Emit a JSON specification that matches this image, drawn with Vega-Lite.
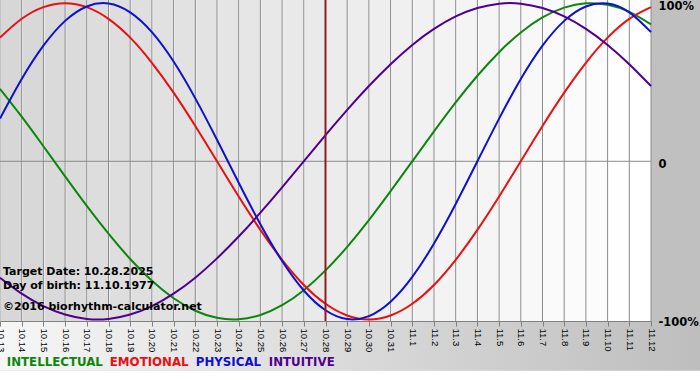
{
  "$schema": "https://vega.github.io/schema/vega-lite/v6.json",
  "width": 651,
  "height": 321,
  "autosize": {"type": "none"},
  "padding": {"left": 0, "top": 0, "right": 49, "bottom": 59},
  "background": "#c0c0c0",
  "config": {"view": {"stroke": null, "fill": "#ffffff"}, "font": "DejaVu Sans"},
  "data": {
    "values": [
      {"date": "2025-10-13", "INTELLECTUAL": 0.458, "EMOTIONAL": 0.782, "PHYSICAL": 0.270, "INTUITIVE": -0.736},
      {"date": "2025-10-14", "INTELLECTUAL": 0.282, "EMOTIONAL": 0.901, "PHYSICAL": 0.520, "INTUITIVE": -0.837},
      {"date": "2025-10-15", "INTELLECTUAL": 0.095, "EMOTIONAL": 0.975, "PHYSICAL": 0.731, "INTUITIVE": -0.916},
      {"date": "2025-10-16", "INTELLECTUAL": -0.095, "EMOTIONAL": 1.0, "PHYSICAL": 0.888, "INTUITIVE": -0.969},
      {"date": "2025-10-17", "INTELLECTUAL": -0.282, "EMOTIONAL": 0.975, "PHYSICAL": 0.979, "INTUITIVE": -0.997},
      {"date": "2025-10-18", "INTELLECTUAL": -0.458, "EMOTIONAL": 0.901, "PHYSICAL": 0.998, "INTUITIVE": -0.997},
      {"date": "2025-10-19", "INTELLECTUAL": -0.618, "EMOTIONAL": 0.782, "PHYSICAL": 0.942, "INTUITIVE": -0.969},
      {"date": "2025-10-20", "INTELLECTUAL": -0.756, "EMOTIONAL": 0.623, "PHYSICAL": 0.817, "INTUITIVE": -0.916},
      {"date": "2025-10-21", "INTELLECTUAL": -0.866, "EMOTIONAL": 0.434, "PHYSICAL": 0.631, "INTUITIVE": -0.837},
      {"date": "2025-10-22", "INTELLECTUAL": -0.945, "EMOTIONAL": 0.223, "PHYSICAL": 0.398, "INTUITIVE": -0.736},
      {"date": "2025-10-23", "INTELLECTUAL": -0.990, "EMOTIONAL": 0.0, "PHYSICAL": 0.136, "INTUITIVE": -0.614},
      {"date": "2025-10-24", "INTELLECTUAL": -0.999, "EMOTIONAL": -0.223, "PHYSICAL": -0.136, "INTUITIVE": -0.476},
      {"date": "2025-10-25", "INTELLECTUAL": -0.972, "EMOTIONAL": -0.434, "PHYSICAL": -0.398, "INTUITIVE": -0.325},
      {"date": "2025-10-26", "INTELLECTUAL": -0.910, "EMOTIONAL": -0.623, "PHYSICAL": -0.631, "INTUITIVE": -0.165},
      {"date": "2025-10-27", "INTELLECTUAL": -0.815, "EMOTIONAL": -0.782, "PHYSICAL": -0.817, "INTUITIVE": 0.0},
      {"date": "2025-10-28", "INTELLECTUAL": -0.690, "EMOTIONAL": -0.901, "PHYSICAL": -0.942, "INTUITIVE": 0.165},
      {"date": "2025-10-29", "INTELLECTUAL": -0.541, "EMOTIONAL": -0.975, "PHYSICAL": -0.998, "INTUITIVE": 0.325},
      {"date": "2025-10-30", "INTELLECTUAL": -0.372, "EMOTIONAL": -1.0, "PHYSICAL": -0.979, "INTUITIVE": 0.476},
      {"date": "2025-10-31", "INTELLECTUAL": -0.189, "EMOTIONAL": -0.975, "PHYSICAL": -0.888, "INTUITIVE": 0.614},
      {"date": "2025-11-01", "INTELLECTUAL": 0.0, "EMOTIONAL": -0.901, "PHYSICAL": -0.731, "INTUITIVE": 0.736},
      {"date": "2025-11-02", "INTELLECTUAL": 0.189, "EMOTIONAL": -0.782, "PHYSICAL": -0.520, "INTUITIVE": 0.837},
      {"date": "2025-11-03", "INTELLECTUAL": 0.372, "EMOTIONAL": -0.623, "PHYSICAL": -0.270, "INTUITIVE": 0.916},
      {"date": "2025-11-04", "INTELLECTUAL": 0.541, "EMOTIONAL": -0.434, "PHYSICAL": 0.0, "INTUITIVE": 0.969},
      {"date": "2025-11-05", "INTELLECTUAL": 0.690, "EMOTIONAL": -0.223, "PHYSICAL": 0.270, "INTUITIVE": 0.997},
      {"date": "2025-11-06", "INTELLECTUAL": 0.815, "EMOTIONAL": 0.0, "PHYSICAL": 0.520, "INTUITIVE": 0.997},
      {"date": "2025-11-07", "INTELLECTUAL": 0.910, "EMOTIONAL": 0.223, "PHYSICAL": 0.731, "INTUITIVE": 0.969},
      {"date": "2025-11-08", "INTELLECTUAL": 0.972, "EMOTIONAL": 0.434, "PHYSICAL": 0.888, "INTUITIVE": 0.916},
      {"date": "2025-11-09", "INTELLECTUAL": 0.999, "EMOTIONAL": 0.623, "PHYSICAL": 0.979, "INTUITIVE": 0.837},
      {"date": "2025-11-10", "INTELLECTUAL": 0.990, "EMOTIONAL": 0.782, "PHYSICAL": 0.998, "INTUITIVE": 0.736},
      {"date": "2025-11-11", "INTELLECTUAL": 0.945, "EMOTIONAL": 0.901, "PHYSICAL": 0.942, "INTUITIVE": 0.614},
      {"date": "2025-11-12", "INTELLECTUAL": 0.866, "EMOTIONAL": 0.975, "PHYSICAL": 0.817, "INTUITIVE": 0.476}
    ]
  },
  "layer": [
    {
      "mark": {"type": "bar", "clip": true},
      "encoding": {
        "x": {
          "field": "date", "type": "temporal", "timeUnit": "utcyearmonthdate", "title": null,
          "scale": {"type": "utc", "domain": [{"year": 2025, "month": 10, "date": 13, "utc": true}, {"year": 2025, "month": 11, "date": 12, "utc": true}]},
          "axis": {
            "format": "%-m.%-d", "tickCount": {"interval": "day", "step": 1},
            "labelAngle": 90, "labelFont": "Liberation Sans", "labelFontSize": 9.5, "labelColor": "#000000",
            "labelFlush": false, "labelOverlap": false, "labelBound": false, "labelPadding": 2,
            "tickColor": "#808080", "tickSize": 5, "domainColor": "#808080", "grid": false, "title": null, "zindex": 1
          }
        },
        "y": {"datum": 1.02, "type": "quantitative", "title": null, "scale": {"domain": [-1.01, 1.02]}},
        "y2": {"datum": -1.01},
        "fill": {
          "field": "date", "type": "ordinal", "legend": null,
          "scale": {"range": ["#d7d7d7", "#d8d8d8", "#dadada", "#dbdbdb", "#dddddd", "#dedede", "#dfdfdf", "#e1e1e1", "#e2e2e2", "#e3e3e3", "#e5e5e5", "#e6e6e6", "#e8e8e8", "#e9e9e9", "#eaeaea", "#ececec", "#ededed", "#eeeeee", "#f0f0f0", "#f1f1f1", "#f3f3f3", "#f4f4f4", "#f5f5f5", "#f7f7f7", "#f8f8f8", "#fafafa", "#fbfbfb", "#fcfcfc", "#fefefe", "#ffffff", "#ffffff"]}
        }
      }
    },
    {
      "mark": {"type": "rule", "color": "#8a8a8a", "strokeWidth": 1},
      "encoding": {"x": {"field": "date", "type": "temporal", "title": null, "scale": {"type": "utc", "domain": [{"year": 2025, "month": 10, "date": 13, "utc": true}, {"year": 2025, "month": 11, "date": 12, "utc": true}]}}}
    },
    {
      "data": {"values": [{}]},
      "mark": {"type": "rule", "color": "#8a8a8a", "strokeWidth": 1},
      "encoding": {"y": {"datum": 0, "type": "quantitative", "title": null, "scale": {"domain": [-1.01, 1.02]}}}
    },
    {
      "data": {"values": [{}]},
      "mark": {"type": "rect", "clip": false, "fill": {"gradient": "linear", "x1": 0, "y1": 0, "x2": 1, "y2": 0, "stops": [{"offset": 0, "color": "#f6f6f6"}, {"offset": 0.88, "color": "#c4c4c4"}, {"offset": 1, "color": "#bdbdbd"}]}},
      "encoding": {
        "x": {"datum": {"year": 2025, "month": 10, "date": 13, "utc": true}, "type": "temporal", "title": null, "scale": {"type": "utc", "domain": [{"year": 2025, "month": 10, "date": 13, "utc": true}, {"year": 2025, "month": 11, "date": 12, "utc": true}]}},
        "x2": {"datum": {"year": 2025, "month": 11, "date": 14, "hours": 12, "utc": true}},
        "y": {"datum": -1.01, "type": "quantitative", "title": null, "scale": {"domain": [-1.01, 1.02]}},
        "y2": {"datum": -1.325}
      }
    },
    {
      "data": {"values": [{}]},
      "mark": {"type": "rect", "clip": false, "fill": "#ffffff"},
      "encoding": {
        "x": {"datum": {"year": 2025, "month": 10, "date": 13, "utc": true}, "type": "temporal", "title": null, "scale": {"type": "utc", "domain": [{"year": 2025, "month": 10, "date": 13, "utc": true}, {"year": 2025, "month": 11, "date": 12, "utc": true}]}},
        "x2": {"datum": {"year": 2025, "month": 11, "date": 14, "hours": 12, "utc": true}},
        "y": {"datum": -1.325, "type": "quantitative", "title": null, "scale": {"domain": [-1.01, 1.02]}},
        "y2": {"datum": -1.5}
      }
    },
    {
      "transform": [{"fold": ["INTELLECTUAL", "EMOTIONAL", "PHYSICAL", "INTUITIVE"], "as": ["series", "value"]}],
      "mark": {"type": "line", "strokeWidth": 2, "interpolate": "natural"},
      "encoding": {
        "x": {"field": "date", "type": "temporal", "title": null, "scale": {"type": "utc", "domain": [{"year": 2025, "month": 10, "date": 13, "utc": true}, {"year": 2025, "month": 11, "date": 12, "utc": true}]}},
        "y": {
          "field": "value", "type": "quantitative", "title": null,
          "scale": {"domain": [-1.01, 1.02]},
          "axis": {
            "orient": "right", "values": [-1, 0, 1],
            "labelExpr": "datum.value == 1 ? '100%' : datum.value == 0 ? '0' : '-100%'",
            "ticks": false, "domain": false, "grid": false,
            "labelFont": "DejaVu Sans", "labelFontWeight": "bold", "labelFontSize": 11.5, "labelColor": "#000000",
            "labelPadding": 7, "labelOffset": 3.5, "title": null, "zindex": 1
          }
        },
        "color": {
          "field": "series", "type": "nominal",
          "scale": {"domain": ["INTELLECTUAL", "EMOTIONAL", "PHYSICAL", "INTUITIVE"], "range": ["#0c860c", "#e81010", "#1010d0", "#500090"]},
          "legend": {
            "orient": "bottom", "direction": "horizontal", "title": null, "offset": 4, "padding": 0,
            "symbolOpacity": 0, "symbolSize": 0, "symbolStrokeWidth": 0, "labelOffset": -5, "columnPadding": 0,
            "labelFont": "DejaVu Sans", "labelFontWeight": "bold", "labelFontSize": 11.8,
            "encode": {"labels": {"update": {"fill": {"scale": "color", "field": "value"}}}}
          }
        }
      }
    },
    {
      "data": {"values": [{}]},
      "mark": {"type": "rule", "color": "#8b1c1c", "strokeWidth": 2},
      "encoding": {"x": {"datum": {"year": 2025, "month": 10, "date": 28, "utc": true}, "type": "temporal", "title": null, "scale": {"type": "utc", "domain": [{"year": 2025, "month": 10, "date": 13, "utc": true}, {"year": 2025, "month": 11, "date": 12, "utc": true}]}}}
    },
    {
      "data": {"values": [{}]},
      "mark": {"type": "text", "align": "left", "baseline": "middle", "dx": 3, "font": "DejaVu Sans", "fontWeight": "bold", "fontSize": 11, "color": "#000000"},
      "encoding": {
        "x": {"datum": {"year": 2025, "month": 10, "date": 13, "utc": true}, "type": "temporal", "title": null, "scale": {"type": "utc", "domain": [{"year": 2025, "month": 10, "date": 13, "utc": true}, {"year": 2025, "month": 11, "date": 12, "utc": true}]}},
        "y": {"datum": -0.70, "type": "quantitative", "title": null, "scale": {"domain": [-1.01, 1.02]}},
        "text": {"value": "Target Date: 10.28.2025"}
      }
    },
    {
      "data": {"values": [{}]},
      "mark": {"type": "text", "align": "left", "baseline": "middle", "dx": 3, "font": "DejaVu Sans", "fontWeight": "bold", "fontSize": 11, "color": "#000000"},
      "encoding": {
        "x": {"datum": {"year": 2025, "month": 10, "date": 13, "utc": true}, "type": "temporal", "title": null, "scale": {"type": "utc", "domain": [{"year": 2025, "month": 10, "date": 13, "utc": true}, {"year": 2025, "month": 11, "date": 12, "utc": true}]}},
        "y": {"datum": -0.789, "type": "quantitative", "title": null, "scale": {"domain": [-1.01, 1.02]}},
        "text": {"value": "Day of birth: 11.10.1977"}
      }
    },
    {
      "data": {"values": [{}]},
      "mark": {"type": "text", "align": "left", "baseline": "middle", "dx": 3, "font": "DejaVu Sans", "fontWeight": "bold", "fontSize": 11, "color": "#000000"},
      "encoding": {
        "x": {"datum": {"year": 2025, "month": 10, "date": 13, "utc": true}, "type": "temporal", "title": null, "scale": {"type": "utc", "domain": [{"year": 2025, "month": 10, "date": 13, "utc": true}, {"year": 2025, "month": 11, "date": 12, "utc": true}]}},
        "y": {"datum": -0.921, "type": "quantitative", "title": null, "scale": {"domain": [-1.01, 1.02]}},
        "text": {"value": "©2016 biorhythm-calculator.net"}
      }
    }
  ]
}
